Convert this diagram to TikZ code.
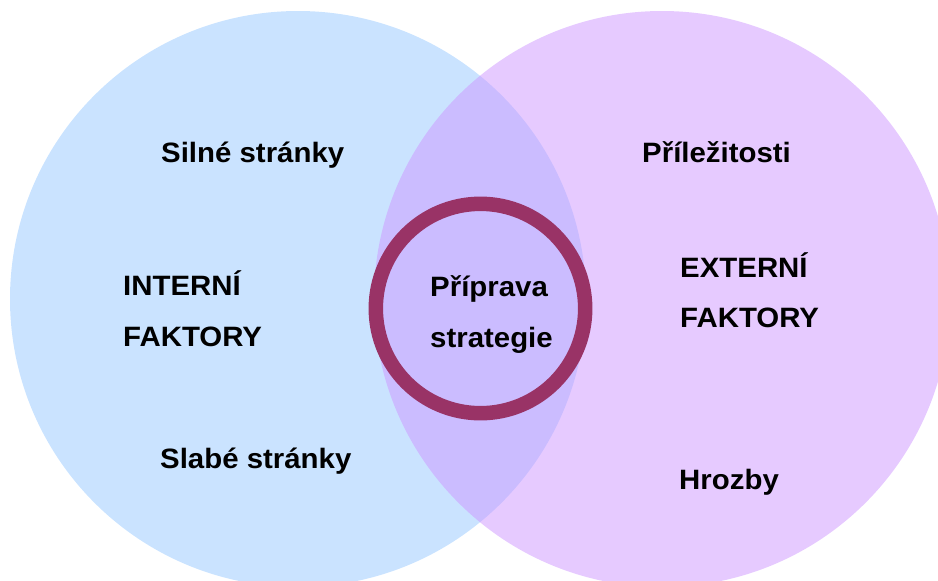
\documentclass[tikz,border=0pt]{standalone}
\usepackage{fontspec}
\setmainfont{Liberation Sans}
\definecolor{leftc}{RGB}{150,200,255}
\definecolor{rightc}{RGB}{205,150,255}
\definecolor{ringc}{RGB}{153,51,102}
\begin{document}
\begin{tikzpicture}[x=1pt,y=-1pt,
  lbl/.style={anchor=base west,inner sep=0pt,font=\fontsize{28}{28}\selectfont\bfseries,xscale=1.05,transform shape},
  venn/.style={circle,minimum size=576pt,inner sep=0pt}]
\useasboundingbox (0,0) rectangle (938,581);
\clip (0,0) rectangle (938,581);
\node[venn,fill=leftc,fill opacity=0.5] (L) at (298,299) {};
\node[venn,fill=rightc,fill opacity=0.5] (R) at (662,299) {};
\node[circle,draw=ringc,line width=14.5pt,minimum size=209.4pt,inner sep=0pt] (C) at (480.5,308.5) {};
\node[lbl] (s1) at (161,162) {Silné stránky};
\node[lbl] (s2) at (160,468) {Slabé stránky};
\node[lbl] (i1) at (123,295) {INTERNÍ};
\node[lbl] (i2) at (123,346) {FAKTORY};
\node[lbl] (p1) at (430,296) {Příprava};
\node[lbl] (p2) at (430,347) {strategie};
\node[lbl] (o1) at (642,162) {Příležitosti};
\node[lbl] (e1) at (680,277) {EXTERNÍ};
\node[lbl] (e2) at (680,327) {FAKTORY};
\node[lbl] (h1) at (679,489) {Hrozby};
\end{tikzpicture}
\end{document}
